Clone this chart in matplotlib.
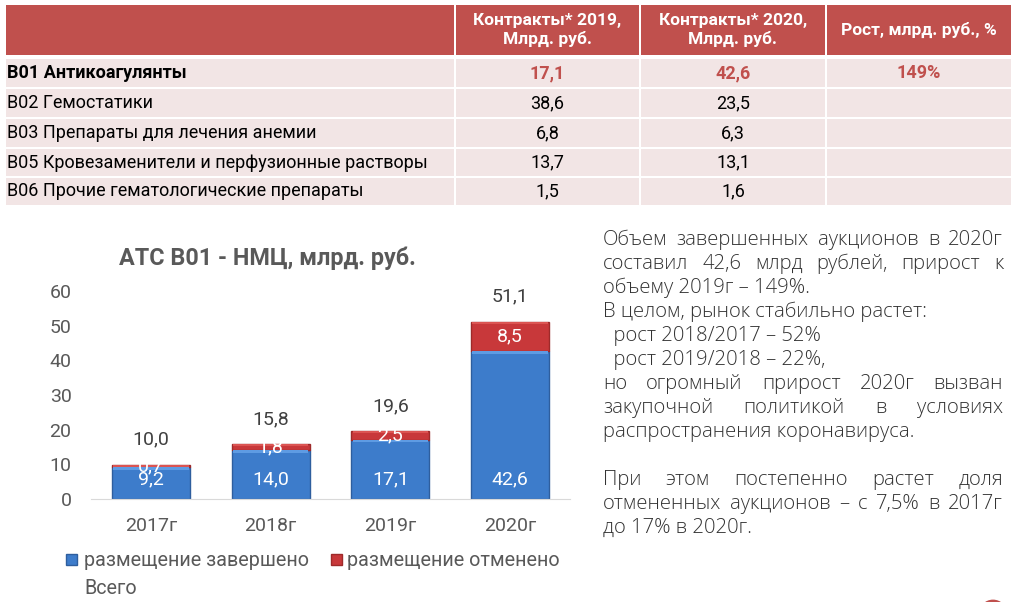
import matplotlib
matplotlib.use('Agg')
import matplotlib.pyplot as plt
from matplotlib.patches import Rectangle, Circle
import numpy as np

plt.rcParams['font.family'] = ['Roboto', 'DejaVu Sans']

# --- table data ---
headers = ['', 'Контракты* 2019,\nМлрд. руб.', 'Контракты* 2020,\nМлрд. руб.', 'Рост, млрд. руб., %']
row_names = ['B01 Антикоагулянты', 'B02 Гемостатики', 'B03 Препараты для лечения анемии',
             'B05 Кровезаменители и перфузионные растворы', 'B06 Прочие гематологические препараты']
contracts_2019 = ['17,1', '38,6', '6,8', '13,7', '1,5']
contracts_2020 = ['42,6', '23,5', '6,3', '13,1', '1,6']
growth = ['149%', '', '', '', '']

# --- chart data ---
years = ['2017г', '2018г', '2019г', '2020г']
done = [9.2, 14.0, 17.1, 42.6]
cancelled = [0.7, 1.8, 2.5, 8.5]
totals = [10.0, 15.8, 19.6, 51.1]

# --- right-side text ---
notes = [
    ('Объем завершенных аукционов в 2020г', True),
    ('составил 42,6 млрд рублей, прирост к', True),
    ('объему 2019г – 149%.', False),
    ('В целом, рынок стабильно растет:', False),
    ('  рост 2018/2017 – 52%', False),
    ('  рост 2019/2018 – 22%,', False),
    ('но огромный прирост 2020г вызван', True),
    ('закупочной политикой в условиях', True),
    ('распространения коронавируса.', False),
    ('', False),
    ('При этом постепенно растет доля', True),
    ('отмененных аукционов – с 7,5% в 2017г', True),
    ('до 17% в 2020г.', False),
]

RED = '#C0504D'
PINK = '#F2E5E5'
BLUE = '#3D7CCB'
DRED = '#C8383A'
GREY = '#595959'

fig = plt.figure(figsize=(10.24, 6.02), dpi=100)
bg = fig.add_axes([0, 0, 1, 1])
bg.set_xlim(0, 1024)
bg.set_ylim(602, 0)
bg.axis('off')

# table
col_edges = [5, 455, 640, 826, 1012]
row_edges = [(5, 55), (59, 87), (89, 117), (119, 147), (149, 176), (178, 205)]
for i in range(4):
    x0, x1 = col_edges[i] + 1, col_edges[i + 1] - 1
    for j, (y0, y1) in enumerate(row_edges):
        bg.add_patch(Rectangle((x0, y0), x1 - x0, y1 - y0, fc=RED if j == 0 else PINK, ec='none'))

for i in range(1, 4):
    cx = (col_edges[i] + col_edges[i + 1]) / 2
    bg.text(cx, 30, headers[i], color='white', fontsize=12.5, fontweight='bold',
            ha='center', va='center', linespacing=1.2)

cols = [contracts_2019, contracts_2020, growth]
for j, name in enumerate(row_names):
    y0, y1 = row_edges[j + 1]
    cy = (y0 + y1) / 2
    bold = j == 0
    bg.text(7, cy, name, fontsize=13, fontweight='bold' if bold else 'normal',
            color='black', ha='left', va='center')
    for i, vals in enumerate(cols):
        cx = (col_edges[i + 1] + col_edges[i + 2]) / 2
        bg.text(cx, cy, vals[j], fontsize=13, ha='center', va='center',
                fontweight='bold' if bold else 'normal', color=RED if bold else 'black')

# chart
ax = fig.add_axes([91 / 1024, (602 - 499) / 602, (570 - 91) / 1024, (499 - 291) / 602])
x = np.arange(len(years))
w = 0.65
done = np.array(done)
cancelled = np.array(cancelled)
ax.bar(x, done, width=w, color=BLUE, edgecolor='#2E5E9E', lw=1, zorder=2)
ax.bar(x, 0.7, bottom=done - 0.7, width=w * 0.97, color='#5E9BE3', lw=0, zorder=3)
ax.bar(x, cancelled, bottom=done, width=w, color=DRED, edgecolor='#9E2A2A', lw=1, zorder=2)
ax.bar(x, np.minimum(cancelled, 0.6), bottom=done + cancelled - np.minimum(cancelled, 0.6),
       width=w * 0.97, color='#DB5452', lw=0, zorder=3)

for xi, d, c, t in zip(x, done, cancelled, totals):
    ax.annotate(f'{d:.1f}'.replace('.', ','), (xi, 0), xytext=(0, 14.5), textcoords='offset points',
                ha='center', va='center', color='white', fontsize=14, zorder=5)
    ax.text(xi, d + c / 2, f'{c:.1f}'.replace('.', ','), ha='center', va='center',
            color='white', fontsize=14, zorder=5)
    ax.annotate(f'{t:.1f}'.replace('.', ','), (xi, t), xytext=(0, 18), textcoords='offset points',
                ha='center', va='center', color='#404040', fontsize=14, annotation_clip=False)

ax.set_xlim(-0.5, 3.5)
ax.set_ylim(0, 60)
ax.set_yticks(range(0, 61, 10))
ax.set_xticks(x)
ax.set_xticklabels(years)
ax.tick_params(axis='both', length=0, labelsize=14, labelcolor=GREY)
ax.tick_params(axis='y', pad=14)
ax.tick_params(axis='x', pad=13)
for s in ['top', 'right', 'left']:
    ax.spines[s].set_visible(False)
ax.spines['bottom'].set_color('#D9D9D9')
ax.patch.set_alpha(0)

bg.text(267, 258, 'АТС В01 - НМЦ, млрд. руб.', fontsize=16.8, fontweight='bold',
        color=GREY, ha='center', va='center')

# legend
bg.add_patch(Rectangle((66, 554), 11, 11, fc=BLUE, ec='#2E5E9E'))
bg.text(84, 560, 'размещение завершено', fontsize=14.2, color=GREY, ha='left', va='center')
bg.add_patch(Rectangle((331, 554), 11, 11, fc=DRED, ec='#9E2A2A'))
bg.text(347, 560, 'размещение отменено', fontsize=14.2, color=GREY, ha='left', va='center')
bg.text(84, 589, 'Всего', fontsize=14.2, color=GREY, ha='left', va='center')

# notes, some lines justified
renderer = fig.canvas.get_renderer()
x_left, x_right = 603, 1003
y = 240
for line, just in notes:
    kw = dict(fontsize=14.6, color='#333333', family=['Open Sans', 'DejaVu Sans'],
              fontweight='light', va='center', ha='left')
    if line and just:
        words = line.split(' ')
        texts = [bg.text(0, y, wd, **kw) for wd in words]
        widths = [t.get_window_extent(renderer).width for t in texts]
        gap = (x_right - x_left - sum(widths)) / (len(words) - 1)
        xx = x_left
        for t, wd in zip(texts, widths):
            t.set_x(xx)
            xx += wd + gap
    elif line:
        bg.text(x_left, y, line, **kw)
    y += 24

bg.add_patch(Circle((993, 614), 13, fc='none', ec=RED, lw=2))

fig.savefig('out.png', dpi=100)
